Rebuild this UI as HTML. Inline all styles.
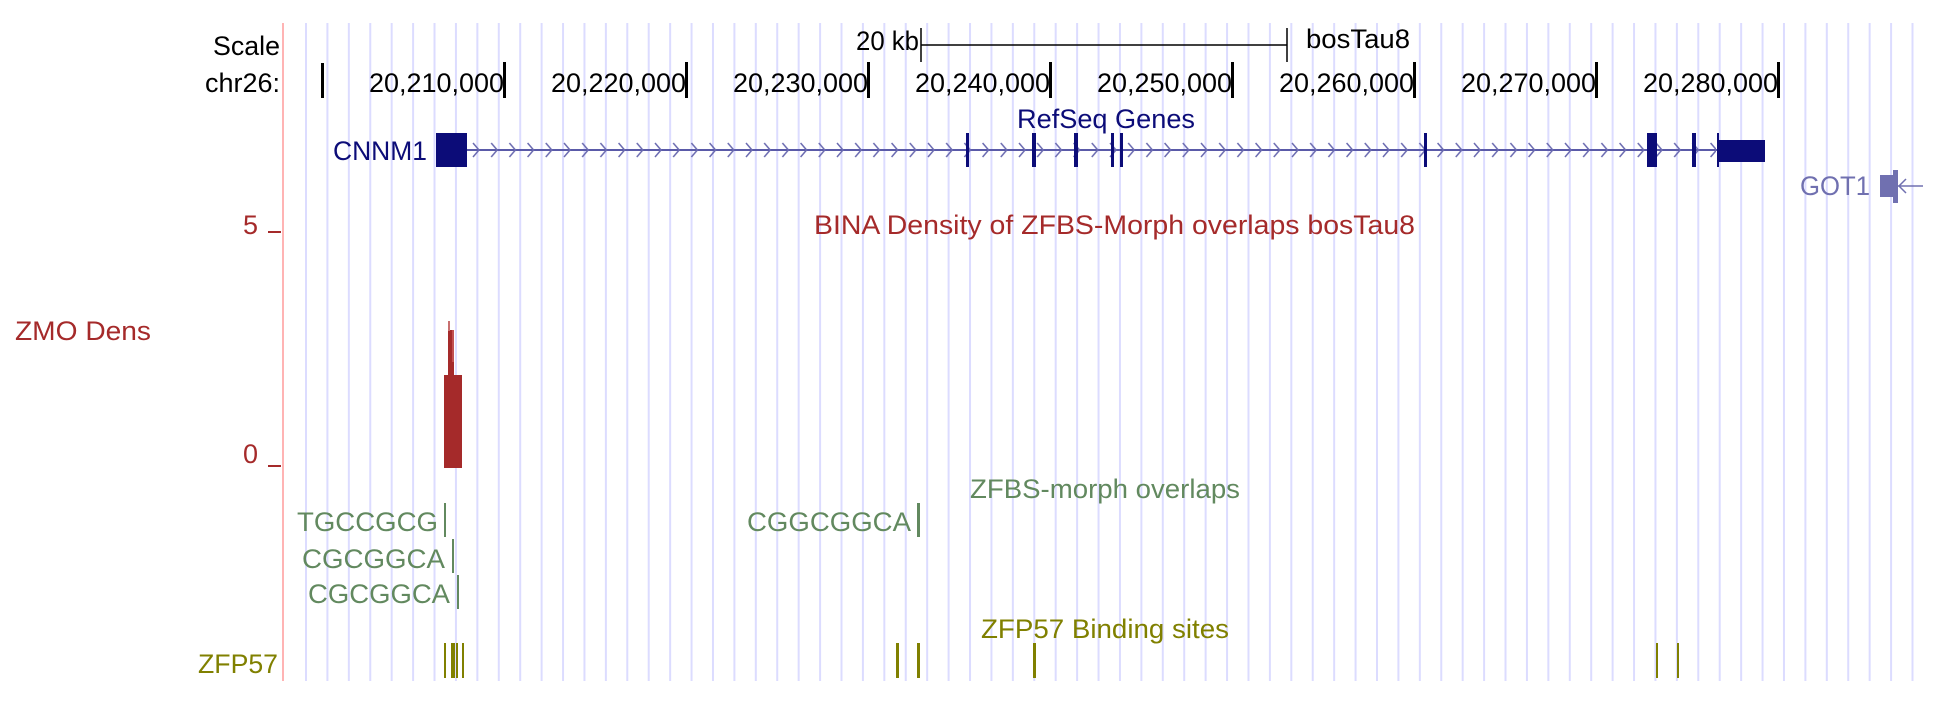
<!DOCTYPE html>
<html><head><meta charset="utf-8"><style>
html,body{margin:0;padding:0;background:#fff;width:1939px;height:704px;overflow:hidden}
svg text{font-family:"Liberation Sans",Arial,sans-serif;font-size:27px}
</style></head><body>
<svg width="1939" height="704" viewBox="0 0 1939 704" xmlns="http://www.w3.org/2000/svg">
<defs>
<pattern id="grid" patternUnits="userSpaceOnUse" x="305" y="0" width="21.42" height="704">
<rect x="0" y="0" width="2" height="704" fill="#dcdcff"/>
</pattern>
<pattern id="chev" patternUnits="userSpaceOnUse" x="472" y="140" width="18.2" height="20">
<polyline points="1,3 7,10 1,17" fill="none" stroke="#6a6ab0" stroke-width="1.5"/>
</pattern>
</defs>
<rect x="305" y="23" width="1610" height="658" fill="url(#grid)"/>
<rect x="282" y="23" width="2" height="658" fill="#ffb4b4"/>

<!-- scale -->
<text x="213" y="55" textLength="67" lengthAdjust="spacingAndGlyphs" fill="#000">Scale</text>
<text x="205" y="92" textLength="75" lengthAdjust="spacingAndGlyphs" fill="#000">chr26:</text>
<text x="856" y="50" textLength="63" lengthAdjust="spacingAndGlyphs" fill="#000">20 kb</text>
<line x1="921" y1="45" x2="1287" y2="45" stroke="#000" stroke-width="1.5"/>
<line x1="921" y1="28" x2="921" y2="62" stroke="#000" stroke-width="1.5"/>
<line x1="1287" y1="28" x2="1287" y2="62" stroke="#000" stroke-width="1.5"/>
<text x="1306" y="48" textLength="104" lengthAdjust="spacingAndGlyphs" fill="#000">bosTau8</text>
<rect x="321" y="63" width="3" height="35" fill="#000"/>
<g fill="#000">
<text x="369" y="92" textLength="135" lengthAdjust="spacingAndGlyphs">20,210,000</text><rect x="503" y="62" width="3" height="36"/>
<text x="551" y="92" textLength="135" lengthAdjust="spacingAndGlyphs">20,220,000</text><rect x="685" y="62" width="3" height="36"/>
<text x="733" y="92" textLength="135" lengthAdjust="spacingAndGlyphs">20,230,000</text><rect x="867" y="62" width="3" height="36"/>
<text x="915" y="92" textLength="135" lengthAdjust="spacingAndGlyphs">20,240,000</text><rect x="1049" y="62" width="3" height="36"/>
<text x="1097" y="92" textLength="135" lengthAdjust="spacingAndGlyphs">20,250,000</text><rect x="1231" y="62" width="3" height="36"/>
<text x="1279" y="92" textLength="135" lengthAdjust="spacingAndGlyphs">20,260,000</text><rect x="1413" y="62" width="3" height="36"/>
<text x="1461" y="92" textLength="135" lengthAdjust="spacingAndGlyphs">20,270,000</text><rect x="1595" y="62" width="3" height="36"/>
<text x="1643" y="92" textLength="135" lengthAdjust="spacingAndGlyphs">20,280,000</text><rect x="1777" y="62" width="3" height="36"/>
</g>

<!-- RefSeq -->
<text x="1017" y="128" textLength="178" lengthAdjust="spacingAndGlyphs" fill="#0c0c78">RefSeq Genes</text>
<text x="333" y="160" textLength="94" lengthAdjust="spacingAndGlyphs" fill="#0c0c78">CNNM1</text>
<rect x="467" y="149" width="1251" height="2" fill="#5a5aa8"/>
<rect x="472" y="140" width="1244" height="20" fill="url(#chev)"/>
<g fill="#0c0c78">
<rect x="436" y="133" width="31" height="34"/>
<rect x="966" y="133" width="3" height="34"/>
<rect x="1032" y="133" width="4" height="34"/>
<rect x="1074" y="133" width="4" height="34"/>
<rect x="1111" y="133" width="3" height="34"/>
<rect x="1120" y="133" width="3" height="34"/>
<rect x="1424" y="133" width="3" height="34"/>
<rect x="1647" y="133" width="10" height="34"/>
<rect x="1692" y="133" width="4" height="34"/>
<rect x="1717" y="133" width="2" height="34"/>
<rect x="1718" y="140" width="47" height="22"/>
</g>
<text x="1800" y="195" textLength="70" lengthAdjust="spacingAndGlyphs" fill="#7070b0">GOT1</text>
<rect x="1880" y="175" width="14" height="22" fill="#7070b0"/>
<rect x="1893" y="170" width="5" height="33" fill="#7070b0"/>
<line x1="1898" y1="186" x2="1923" y2="186" stroke="#7070b0" stroke-width="1.5"/>
<polyline points="1906,179 1899,186 1906,193" fill="none" stroke="#7070b0" stroke-width="1.5"/>

<!-- density -->
<text x="814" y="234" textLength="601" lengthAdjust="spacingAndGlyphs" fill="#a52a2a">BINA Density of ZFBS-Morph overlaps bosTau8</text>
<text x="258" y="234" text-anchor="end" fill="#a52a2a">5</text>
<rect x="268" y="231" width="13" height="2" fill="#a52a2a"/>
<text x="15" y="340" textLength="136" lengthAdjust="spacingAndGlyphs" fill="#a52a2a">ZMO Dens</text>
<text x="258" y="463" text-anchor="end" fill="#a52a2a">0</text>
<rect x="268" y="465" width="13" height="2" fill="#a52a2a"/>
<rect x="444" y="375" width="18" height="93" fill="#a52a2a"/>
<rect x="448" y="330" width="6" height="45" fill="#a52a2a"/>
<rect x="448" y="321" width="2" height="10" fill="#c87070"/>
<rect x="452" y="330" width="2" height="32" fill="#c25050"/>

<!-- ZFBS -->
<g fill="#62895f">
<text x="970" y="498" textLength="270" lengthAdjust="spacingAndGlyphs">ZFBS-morph overlaps</text>
<text x="297" y="531" textLength="141" lengthAdjust="spacingAndGlyphs">TGCCGCG</text><rect x="444" y="503" width="2" height="34"/>
<text x="302" y="568" textLength="143" lengthAdjust="spacingAndGlyphs">CGCGGCA</text><rect x="452" y="539" width="2" height="34"/>
<text x="308" y="603" textLength="142" lengthAdjust="spacingAndGlyphs">CGCGGCA</text><rect x="457" y="575" width="2" height="34"/>
<text x="747" y="531" textLength="164" lengthAdjust="spacingAndGlyphs">CGGCGGCA</text><rect x="917" y="503" width="3" height="34"/>
</g>

<!-- ZFP57 -->
<g fill="#808000">
<text x="981" y="638" textLength="248" lengthAdjust="spacingAndGlyphs">ZFP57 Binding sites</text>
<text x="198" y="673" textLength="80" lengthAdjust="spacingAndGlyphs">ZFP57</text>
<rect x="444" y="643" width="2" height="35"/>
<rect x="451" y="643" width="4" height="35"/>
<rect x="456" y="643" width="2" height="35"/>
<rect x="462" y="643" width="2" height="35"/>
<rect x="896" y="643" width="3" height="35"/>
<rect x="917" y="643" width="3" height="35"/>
<rect x="1033" y="643" width="3" height="35"/>
<rect x="1656" y="643" width="2" height="35"/>
<rect x="1677" y="643" width="2" height="35"/>
</g>
</svg>
</body></html>
